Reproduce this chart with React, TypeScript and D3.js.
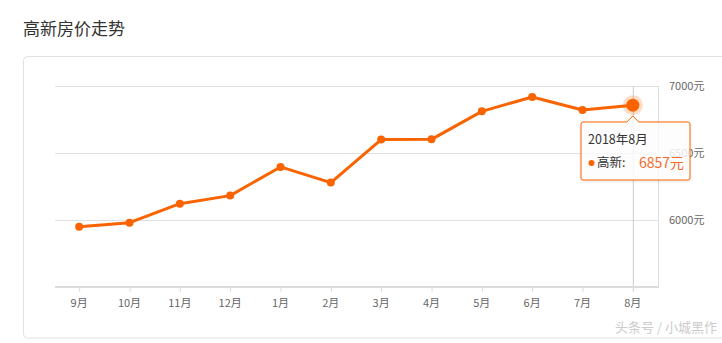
import React from "react";
import * as d3 from "d3";

const months = ["9月", "10月", "11月", "12月", "1月", "2月", "3月", "4月", "5月", "6月", "7月", "8月"];
const prices = [5950, 5980, 6122, 6182, 6396, 6279, 6600, 6602, 6811, 6918, 6821, 6857];
const yTicks = [6000, 6500, 7000];
const title = "高新房价走势";
const tooltipTitle = "2018年8月";
const seriesName = "高新";
const highlightIndex = 11;

const W = 722;
const H = 343;
const FONT = "'Noto Sans CJK SC', 'Noto Sans', sans-serif";
const ORANGE = "#f96400";

export default function App() {
  const x = d3.scalePoint<string>().domain(months).range([54, 658]).padding(0.5);
  const y = d3.scaleLinear().domain([5500, 7000]).range([287, 86]);
  const line = d3
    .line<number>()
    .x((_, i) => x(months[i]) as number)
    .y((d) => y(d));

  const hx = x(months[highlightIndex]) as number;
  const hy = y(prices[highlightIndex]);

  const tx0 = 581;
  const tx1 = 690;
  const ty0 = 122;
  const ty1 = 180;
  const tipPath = `M${tx0 + 2},${ty0} L${hx - 6},${ty0} L${hx},${ty0 - 6} L${hx + 6},${ty0} L${tx1 - 2},${ty0} Q${tx1},${ty0} ${tx1},${ty0 + 2} L${tx1},${ty1 - 2} Q${tx1},${ty1} ${tx1 - 2},${ty1} L${tx0 + 2},${ty1} Q${tx0},${ty1} ${tx0},${ty1 - 2} L${tx0},${ty0 + 2} Q${tx0},${ty0} ${tx0 + 2},${ty0} Z`;

  return (
    <div style={{ position: "absolute", left: 0, top: 0 }}>
      <svg width={W} height={H} style={{ display: "block", fontFamily: FONT }}>
        <defs>
          <filter id="sh" x="-20%" y="-20%" width="140%" height="140%">
            <feDropShadow dx="0" dy="1" stdDeviation="1.5" floodColor="#000" floodOpacity="0.12" />
          </filter>
        </defs>
        <rect x={0} y={0} width={W} height={H} fill="#fff" />
        <text x={23} y={35} fontSize={17} fill="#333">{title}</text>
        <rect x={23.5} y={56.5} width={720} height={281.5} rx={4} fill="#fff" stroke="#e2e2e2" />

        {yTicks.map((t) => (
          <line key={t} x1={55} x2={659} y1={Math.round(y(t)) + 0.5} y2={Math.round(y(t)) + 0.5} stroke="#e0e0e0" />
        ))}
        <line x1={658.5} x2={658.5} y1={86} y2={287} stroke="#ddd" />
        <line x1={hx + 0.5} x2={hx + 0.5} y1={86} y2={292} stroke="#ccc" />
        <line x1={55} x2={659} y1={287} y2={287} stroke="#dcdcdc" strokeWidth={2} />
        {months.map((m) => (
          <line key={"t" + m} x1={(x(m) as number) + 0.5} x2={(x(m) as number) + 0.5} y1={288} y2={292} stroke="#dcdcdc" />
        ))}
        {months.map((m) => (
          <text key={"l" + m} x={x(m) as number} y={307} fontSize={11} fill="#666" textAnchor="middle">{m}</text>
        ))}
        {yTicks.map((t) => (
          <text key={"y" + t} x={669} y={y(t) + 4} fontSize={11} fill="#666">{t + "元"}</text>
        ))}

        <path d={line(prices) || ""} fill="none" stroke={ORANGE} strokeWidth={3} strokeLinejoin="round" />
        {prices.map((p, i) =>
          i === highlightIndex ? null : (
            <circle key={"c" + i} cx={x(months[i]) as number} cy={y(p)} r={4} fill={ORANGE} />
          )
        )}
        <circle cx={hx} cy={hy} r={10} fill={ORANGE} opacity={0.22} />
        <circle cx={hx} cy={hy} r={6.5} fill={ORANGE} />

        <path d={tipPath} fill="#fff" fillOpacity={0.82} stroke={ORANGE} strokeWidth={1} filter="url(#sh)" />
        <text x={588} y={144} fontSize={12.5} fill="#333">{tooltipTitle}</text>
        <circle cx={591.5} cy={163} r={3} fill={ORANGE} />
        <text x={597} y={167} fontSize={12.5} fill="#333">{seriesName + ":"}</text>
        <text x={639} y={167.5} fontSize={14} fill="#f26a2c">{prices[highlightIndex] + "元"}</text>

        <text x={717} y={332} fontSize={13} fill="#cccccc" textAnchor="end">头条号 / 小城黑作</text>
      </svg>
    </div>
  );
}
